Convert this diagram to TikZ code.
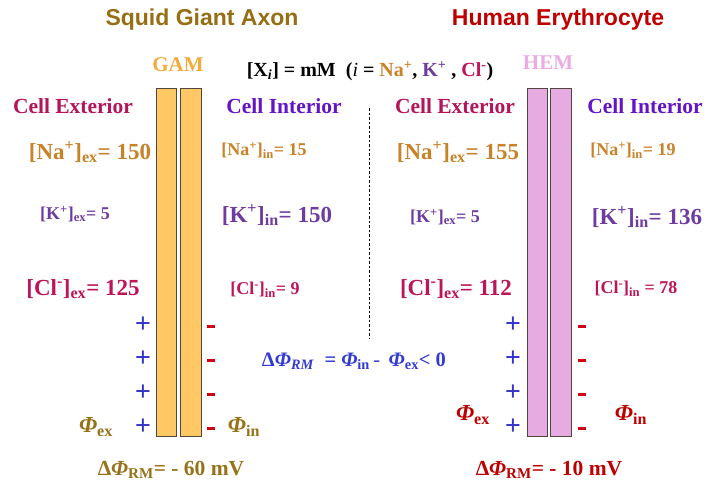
\documentclass[tikz,border=0pt]{standalone}
\usepackage{fontspec}
\setmainfont{Liberation Serif}
\newfontfamily\titlefont{Liberation Sans}
\usetikzlibrary{positioning}
\definecolor{ttlbrown}{RGB}{150,110,20}
\definecolor{ttlred}{RGB}{192,0,0}
\definecolor{gamc}{RGB}{245,170,60}
\definecolor{hemc}{RGB}{235,172,228}
\definecolor{gamfill}{RGB}{255,200,100}
\definecolor{hemfill}{RGB}{230,172,225}
\definecolor{membd}{RGB}{80,70,60}
\definecolor{exc}{RGB}{180,20,90}
\definecolor{inc}{RGB}{100,20,200}
\definecolor{nac}{RGB}{200,130,40}
\definecolor{kc}{RGB}{110,60,160}
\definecolor{clc}{RGB}{190,20,90}
\definecolor{phil}{RGB}{150,115,25}
\definecolor{phir}{RGB}{190,0,0}
\definecolor{plusc}{RGB}{50,50,200}
\definecolor{minusc}{RGB}{210,0,20}
\definecolor{formc}{RGB}{50,60,210}
\newcommand\fsz[1]{\fontsize{#1}{#1}\selectfont}
\newcommand\Phiit{\textit{Φ}}
\tikzset{
  lab/.style={inner sep=0pt, font=\bfseries},
  bigt/.style={lab, font=\bfseries\fsz{23}},
  smallt/.style={lab, font=\bfseries\fsz{18}},
  ttl/.style={inner sep=0pt, font=\titlefont\bfseries\fsz{23}},
  membar/.style={draw=membd, line width=1pt, minimum height=348pt, inner sep=0pt},
  plussign/.style={inner sep=0pt, text=plusc, font=\titlefont\fsz{27}},
  minussign/.style={fill=minusc, inner sep=0pt, minimum width=7.5pt, minimum height=3pt},
}
\begin{document}
\begin{tikzpicture}[x=1pt,y=-1pt]
\useasboundingbox[fill=white] (0,0) rectangle (705,485);
% titles
\node[ttl, text=ttlbrown] (t1) at (202,20) {Squid Giant Axon};
\node[ttl, text=ttlred] (t2) at (558,20) {Human Erythrocyte};
\node[lab, text=gamc, font=\bfseries\fsz{21}] (gam) at (178,65) {GAM};
\node[lab, text=hemc, font=\bfseries\fsz{21}] (hem) at (548,63) {HEM};
\node[lab, font=\bfseries\fsz{20}] (xi) at (370,71) {[X\textsubscript{\textit{i}}] = mM\ \ (\textit{\mdseries i} = \textcolor{nac}{Na\textsuperscript{+}}, \textcolor{kc}{K\textsuperscript{+}} , \textcolor{clc}{Cl\textsuperscript{-}})};
% membranes
\node[membar, fill=gamfill, minimum width=20pt] (m1a) at (166.5,262.5) {};
\node[membar, fill=gamfill, minimum width=21pt] (m1b) at (191,262.5) {};
\node[membar, fill=hemfill, minimum width=20pt] (m2a) at (537.5,262.5) {};
\node[membar, fill=hemfill, minimum width=21pt] (m2b) at (561,262.5) {};
% compartment labels
\node[lab, text=exc, font=\bfseries\fsz{21.5}] (ex1) at (73,106) {Cell Exterior};
\node[lab, text=inc, font=\bfseries\fsz{21.5}] (in1) at (284,106) {Cell Interior};
\node[lab, text=exc, font=\bfseries\fsz{21.5}] (ex2) at (455,106) {Cell Exterior};
\node[lab, text=inc, font=\bfseries\fsz{21.5}] (in2) at (645,106) {Cell Interior};
% concentrations left
\node[bigt, text=nac] (na1e) at (90,152) {[Na\textsuperscript{+}]\textsubscript{ex}= 150};
\node[smallt, text=nac] (na1i) at (264,150) {[Na\textsuperscript{+}]\textsubscript{in}= 15};
\node[smallt, text=kc] (k1e) at (75,214) {[K\textsuperscript{+}]\textsubscript{ex}= 5};
\node[bigt, text=kc] (k1i) at (277,215) {[K\textsuperscript{+}]\textsubscript{in}= 150};
\node[bigt, text=clc] (cl1e) at (83,289) {[Cl\textsuperscript{-}]\textsubscript{ex}= 125};
\node[smallt, text=clc] (cl1i) at (265,290) {[Cl\textsuperscript{-}]\textsubscript{in}= 9};
% concentrations right
\node[bigt, text=nac] (na2e) at (458,152) {[Na\textsuperscript{+}]\textsubscript{ex}= 155};
\node[smallt, text=nac] (na2i) at (633,150) {[Na\textsuperscript{+}]\textsubscript{in}= 19};
\node[smallt, text=kc] (k2e) at (445,217) {[K\textsuperscript{+}]\textsubscript{ex}= 5};
\node[bigt, text=kc] (k2i) at (647,217) {[K\textsuperscript{+}]\textsubscript{in}= 136};
\node[bigt, text=clc] (cl2e) at (456,289) {[Cl\textsuperscript{-}]\textsubscript{ex}= 112};
\node[smallt, text=clc] (cl2i) at (636,289) {[Cl\textsuperscript{-}]\textsubscript{in} = 78};
% charges
\foreach \yy [count=\i] in {325,359,393,427} {
  \node[plussign] (p1\i) at (143,\yy) {+};
  \node[minussign] (n1\i) at (211,\yy+1) {};
  \node[plussign] (p2\i) at (513,\yy) {+};
  \node[minussign] (n2\i) at (582,\yy+1) {};
}
% potentials
\node[lab, text=phil, font=\bfseries\fsz{23}] (phi1e) at (96,427) {\Phiit\textsubscript{ex}};
\node[lab, text=phil, font=\bfseries\fsz{23}] (phi1i) at (244,427) {\Phiit\textsubscript{in}};
\node[lab, text=phir, font=\bfseries\fsz{23}] (phi2e) at (473,415) {\Phiit\textsubscript{ex}};
\node[lab, text=phir, font=\bfseries\fsz{23}] (phi2i) at (631,415) {\Phiit\textsubscript{in}};
\node[lab, text=phil, font=\bfseries\fsz{21.5}] (d1) at (171,470) {Δ\Phiit\textsubscript{RM}= - 60 mV};
\node[lab, text=phir, font=\bfseries\fsz{21.5}] (d2) at (549,470) {Δ\Phiit\textsubscript{RM}= - 10 mV};
% center formula
\node[lab, text=formc, font=\bfseries\fsz{20.5}] (form) at (354,361) {Δ\Phiit\textsubscript{\textit{RM}}\ \ = \Phiit\textsubscript{in}\,{\mdseries -}\, \Phiit\textsubscript{ex}< 0};
% divider
\coordinate (dtop) at (369,108);
\coordinate (dbot) at (369,338);
\draw[line width=0.7pt, dash pattern=on 2.5pt off 2pt] (dtop) -- (dbot);
\end{tikzpicture}
\end{document}
